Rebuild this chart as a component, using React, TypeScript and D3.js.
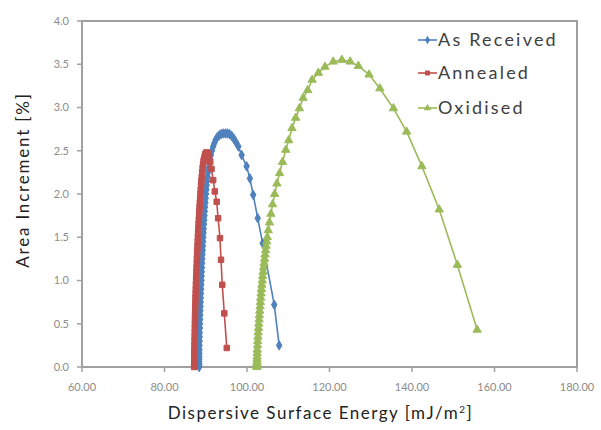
import React from "react";
import * as d3 from "d3";

const xTicks = [60, 80, 100, 120, 140, 160, 180];
const yTicks = [0, 0.5, 1.0, 1.5, 2.0, 2.5, 3.0, 3.5, 4.0];

const seriesNames = ["As Received", "Annealed", "Oxidised"];
const seriesColors = ["#4F81BD", "#C0504D", "#9BBB59"];

const asReceivedX = [
  88.40, 88.40, 88.41, 88.41, 88.42, 88.43, 88.44, 88.45, 88.47,
  88.49, 88.51, 88.53, 88.55, 88.58, 88.61, 88.64, 88.67, 88.70, 88.73,
  88.76, 88.80, 88.84, 88.88, 88.92, 88.96, 89.00, 89.04, 89.08, 89.12,
  89.16, 89.21, 89.26, 89.31, 89.36, 89.41, 89.46, 89.52, 89.58, 89.64,
  89.70, 89.77, 89.84, 89.91, 89.98, 90.06, 90.14, 90.23, 90.33, 90.44,
  90.56, 90.70,
  90.86, 91.04, 91.25, 91.5, 91.8, 92.1, 92.45, 92.85, 93.3, 93.8, 94.3,
  94.8, 95.3, 95.8, 96.3, 96.8, 97.3, 97.9, 98.7, 99.9, 100.7, 101.5, 102.6, 103.8, 106.6, 107.8,
];
const asReceivedY = [
  0.00, 0.01, 0.02, 0.04, 0.06, 0.09, 0.12, 0.16, 0.20,
  0.25, 0.30, 0.35, 0.40, 0.45, 0.50, 0.55, 0.60, 0.65, 0.70,
  0.75, 0.80, 0.85, 0.90, 0.95, 1.00, 1.05, 1.10, 1.15, 1.20,
  1.25, 1.30, 1.35, 1.40, 1.45, 1.50, 1.55, 1.60, 1.65, 1.70,
  1.75, 1.80, 1.85, 1.90, 1.95, 2.00, 2.05, 2.10, 2.15, 2.20,
  2.25, 2.30,
  2.35, 2.40, 2.45, 2.50, 2.55, 2.59, 2.63, 2.66, 2.68, 2.695, 2.70,
  2.70, 2.70, 2.69, 2.67, 2.64, 2.60, 2.55, 2.45, 2.32, 2.18, 1.99, 1.72, 1.43, 0.72, 0.25,
];

const annealedX = [
  87.20, 87.20, 87.20, 87.21, 87.21, 87.22, 87.23, 87.24, 87.25,
  87.27, 87.29, 87.31, 87.33, 87.35, 87.37, 87.39, 87.41, 87.43, 87.46,
  87.49, 87.52, 87.55, 87.58, 87.62, 87.66, 87.70, 87.74, 87.78, 87.82,
  87.86, 87.90, 87.95, 88.00, 88.05, 88.10, 88.15, 88.20, 88.26, 88.32,
  88.38, 88.44, 88.50, 88.57, 88.64, 88.71, 88.78, 88.86, 88.94, 89.03,
  89.13, 89.24,
  89.35, 89.47, 89.6, 89.75, 89.9, 90.05, 90.2,
  90.5, 90.8, 91.1, 91.4, 91.8, 92.2, 92.65, 93.0, 93.45, 93.7, 94.0, 94.5, 95.1,
];
const annealedY = [
  0.00, 0.01, 0.02, 0.04, 0.06, 0.09, 0.12, 0.16, 0.20,
  0.25, 0.30, 0.35, 0.40, 0.45, 0.50, 0.55, 0.60, 0.65, 0.70,
  0.75, 0.80, 0.85, 0.90, 0.95, 1.00, 1.05, 1.10, 1.15, 1.20,
  1.25, 1.30, 1.35, 1.40, 1.45, 1.50, 1.55, 1.60, 1.65, 1.70,
  1.75, 1.80, 1.85, 1.90, 1.95, 2.00, 2.05, 2.10, 2.15, 2.20,
  2.25, 2.30,
  2.34, 2.38, 2.41, 2.44, 2.46, 2.475, 2.48,
  2.47, 2.43, 2.37, 2.29, 2.16, 2.03, 1.91, 1.72, 1.49, 1.24, 0.95, 0.62, 0.22,
];

const oxidisedX = [
  102.40, 102.40, 102.41, 102.41, 102.42, 102.43, 102.44, 102.46, 102.48,
  102.55, 102.60, 102.66, 102.72, 102.79, 102.86, 102.93, 103.00, 103.08, 103.16,
  103.24, 103.32, 103.41, 103.50, 103.60, 103.70, 103.80, 103.91, 104.02, 104.14,
  104.26, 104.38, 104.51, 104.64, 104.78, 104.92,
  105.15, 105.45, 105.8, 106.2, 106.7, 107.25, 107.9, 108.6, 109.4, 110.1, 110.9, 111.8, 112.7, 113.6,
  114.7, 115.8, 117.3, 118.9, 120.9, 123.0, 125.0, 127.0, 129.6, 132.2, 135.5, 138.7, 142.4, 146.6,
  151.0, 155.8,
];
const oxidisedY = [
  0.00, 0.01, 0.02, 0.04, 0.06, 0.09, 0.12, 0.16, 0.20,
  0.25, 0.30, 0.35, 0.40, 0.45, 0.50, 0.55, 0.60, 0.65, 0.70,
  0.75, 0.80, 0.85, 0.90, 0.95, 1.00, 1.05, 1.10, 1.15, 1.20,
  1.25, 1.30, 1.35, 1.40, 1.45, 1.50,
  1.58, 1.67, 1.77, 1.88, 2.00, 2.12, 2.24, 2.37, 2.51, 2.62, 2.76, 2.88, 2.99, 3.11,
  3.20, 3.32, 3.40, 3.47, 3.53, 3.55, 3.53, 3.48, 3.38, 3.22, 2.99, 2.72, 2.32, 1.82,
  1.18, 0.43,
];

const W = 601;
const H = 430;
const left = 82;
const right = 577;
const top = 21;
const bottom = 367;

const symbols = [d3.symbolDiamond, d3.symbolSquare, d3.symbolTriangle];
const symbolSizes = [26, 30, 30];

export default function App() {
  const x = d3.scaleLinear().domain([60, 180]).range([left, right]);
  const y = d3.scaleLinear().domain([0, 4]).range([bottom, top]);
  const series = [
    { xs: asReceivedX, ys: asReceivedY },
    { xs: annealedX, ys: annealedY },
    { xs: oxidisedX, ys: oxidisedY },
  ];
  const line = d3
    .line<[number, number]>()
    .x((d) => x(d[0]))
    .y((d) => y(d[1]));
  const font = "Lato, 'Open Sans', sans-serif";
  const axisColor = "#A0A0A0";
  const legendY = [40, 73, 108];

  return (
    <svg
      width={W}
      height={H}
      style={{ position: "absolute", left: 0, top: 0, background: "#fff" }}
    >
      <rect x={0} y={0} width={W} height={H} fill="#fff" />
      <rect
        x={left}
        y={top}
        width={right - left}
        height={bottom - top}
        fill="none"
        stroke={axisColor}
        strokeWidth={2}
      />
      {yTicks.map((t) => (
        <g key={"y" + t}>
          <line x1={left - 5} x2={left} y1={y(t)} y2={y(t)} stroke={axisColor} strokeWidth={1.5} />
          <text
            x={69}
            y={y(t)}
            dy="0.35em"
            textAnchor="end"
            fontFamily={font}
            fontSize={11}
            fill="#8C8C8C"
          >
            {t.toFixed(1)}
          </text>
        </g>
      ))}
      {xTicks.map((t) => (
        <g key={"x" + t}>
          <line x1={x(t)} x2={x(t)} y1={bottom} y2={bottom + 5} stroke={axisColor} strokeWidth={1.5} />
          <text
            x={x(t)}
            y={391}
            textAnchor="middle"
            fontFamily={font}
            fontSize={11}
            fill="#8C8C8C"
          >
            {t.toFixed(2)}
          </text>
        </g>
      ))}
      {series.map((s, i) => {
        const pts = s.xs.map((v, j) => [v, s.ys[j]] as [number, number]);
        const sym = d3.symbol().type(symbols[i]).size(symbolSizes[i])();
        return (
          <g key={"s" + i}>
            <path d={line(pts) || ""} fill="none" stroke={seriesColors[i]} strokeWidth={1.6} />
            {pts.map((p, j) => (
              <path
                key={j}
                d={sym || ""}
                transform={`translate(${x(p[0])},${y(p[1])})`}
                fill={seriesColors[i]}
                stroke={seriesColors[i]}
                strokeWidth={1}
              />
            ))}
          </g>
        );
      })}
      {seriesNames.map((n, i) => {
        const sym = d3.symbol().type(symbols[i]).size(symbolSizes[i] * 0.8)();
        return (
          <g key={"l" + i}>
            <line x1={418} x2={437} y1={legendY[i]} y2={legendY[i]} stroke={seriesColors[i]} strokeWidth={1.6} />
            <path d={sym || ""} transform={`translate(427.5,${legendY[i]})`} fill={seriesColors[i]} />
            <text
              x={438}
              y={legendY[i]}
              dy="0.35em"
              fontFamily={font}
              fontSize={18}
              letterSpacing={2.2}
              fill="#404040"
            >
              {n}
            </text>
          </g>
        );
      })}
      <text
        x={(left + right) / 2 - 9}
        y={419}
        textAnchor="middle"
        fontFamily={font}
        fontSize={17}
        letterSpacing={1.5}
        fill="#222"
      >
        Dispersive Surface Energy [mJ/m
        <tspan dy={-6} fontSize={10}>2</tspan>
        <tspan dy={6}>]</tspan>
      </text>
      <text
        transform={`translate(29,180) rotate(-90)`}
        textAnchor="middle"
        fontFamily={font}
        fontSize={17}
        letterSpacing={1.8}
        fill="#222"
      >
        Area Increment [%]
      </text>
    </svg>
  );
}
